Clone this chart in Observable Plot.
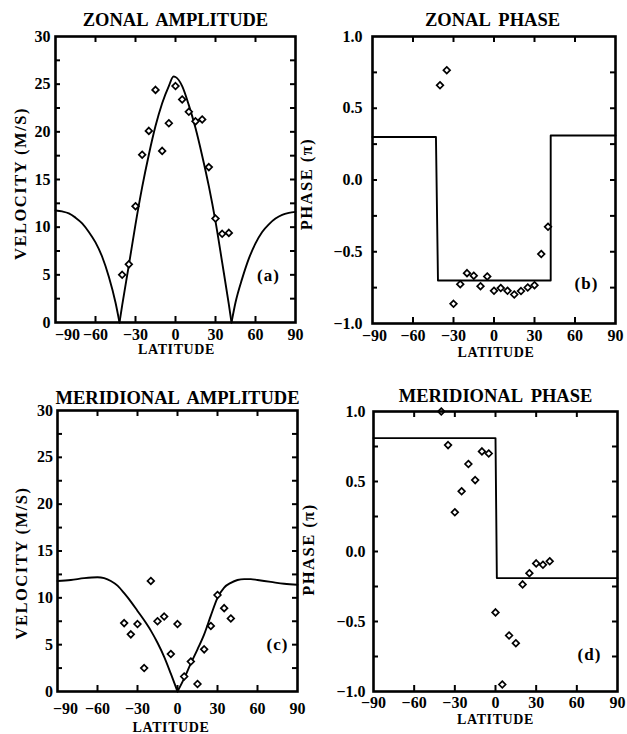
<!DOCTYPE html>
<html><head><meta charset="utf-8">
<script src="https://cdn.jsdelivr.net/npm/d3@7"></script>
<script src="https://cdn.jsdelivr.net/npm/@observablehq/plot@0.6"></script>
<style>
body{margin:0;background:#fff;}
#wrap{position:relative;width:627px;height:734px;overflow:hidden;background:#fff;}
#wrap svg{position:absolute;overflow:visible;}
</style></head><body><div id="wrap"></div>
<script>
// ---- observations (latitude grid, every 5 degrees) ----
const latObs = [-40,-35,-30,-25,-20,-15,-10,-5,0,5,10,15,20,25,30,35,40];
const zonalAmpObs = [5.0,6.1,12.2,17.6,20.1,24.4,18.0,20.9,24.8,23.4,22.1,21.1,21.3,16.3,10.9,9.3,9.4];
const zonalPhaseObs = [0.66,0.765,-0.863,-0.726,-0.649,-0.667,-0.740,-0.672,-0.772,-0.753,-0.772,-0.798,-0.774,-0.749,-0.733,-0.516,-0.326];
const merAmpObs = [7.3,6.1,7.2,2.5,11.8,7.5,8.0,4.0,7.2,1.6,3.2,0.8,4.5,7.0,10.3,8.9,7.8];
const merPhaseObs = [1.0,0.76,0.28,0.43,0.625,0.51,0.715,0.70,-0.435,-0.95,-0.60,-0.655,-0.235,-0.155,-0.085,-0.095,-0.07];

// ---- model curves ----
const zonalAmpModelLat = [-90,-85,-80,-75,-70,-65,-60,-55,-50,-45,-42,-40,-35,-30,-25,-20,-15,-10,-5,-1.5,0,5,10,15,20,25,30,35,40,42,45,50,55,60,65,70,75,80,85,90];
const zonalAmpModel    = [11.75,11.65,11.45,11.0,10.4,9.5,8.4,6.9,4.8,2.1,0,1.8,6.0,10.3,14.2,17.6,20.6,23.0,24.8,25.8,25.75,24.8,22.8,20.4,17.5,14.3,10.6,6.3,1.9,0,2.1,4.6,6.7,8.3,9.5,10.3,10.9,11.3,11.5,11.6];
const zonalPhaseModelLat = [-90,-43,-41.5,42,42,90];
const zonalPhaseModel    = [0.30,0.30,-0.70,-0.70,0.31,0.31];
const merAmpModelLat = [-90,-80,-70,-60,-55,-50,-45,-40,-35,-30,-25,-20,-15,-10,-5,0,5,10,15,20,25,30,35,40,45,50,55,60,70,80,90];
const merAmpModel    = [11.8,11.9,12.1,12.2,12.1,11.8,11.3,10.5,9.6,8.6,7.6,6.5,5.2,3.7,1.9,0,1.4,3.0,4.5,6.1,8.1,10.0,11.1,11.6,11.9,12.0,12.0,11.9,11.7,11.5,11.4];
const merPhaseModelLat = [-90,0,1,90];
const merPhaseModel    = [0.81,0.81,-0.19,-0.19];

// ---- ticks ----
const xTickValues = [-90,-60,-30,0,30,60,90];
const xInnerTicks = [-60,-30,0,30,60];
const ampTickValues = [0,5,10,15,20,25,30];
const ampMinorTicks = [2.5,5,7.5,10,12.5,15,17.5,20,22.5,25,27.5];
const phaseTickValues = [-1,-0.5,0,0.5,1];
const phaseMinorTicks = [-0.75,-0.5,-0.25,0,0.25,0.5,0.75];

const SERIF = "'Liberation Serif','Times New Roman',serif";
const xFmt = d3.format("d");

function rowsOf(lats, vals) {
  const rows = []; let seg = 0;
  lats.forEach((x, i) => {
    const y = vals[i];
    rows.push({x, y, seg});
    if (y === 0 && i > 0 && i < lats.length - 1) { seg++; rows.push({x, y, seg}); }
  });
  return rows;
}

function panel(o) {
  const {left, top, width, height, m} = o;
  const frameH = height - m.top - m.bottom;
  const frameW = width - m.left - m.right;
  const obs = latObs.map((x, i) => ({x, y: o.obs[i]}));
  const model = rowsOf(o.modelLat, o.model);
  const firstTick = xTickValues.slice(0, 1);
  const svg = Plot.plot({
    width, height,
    marginTop: m.top, marginRight: m.right, marginBottom: m.bottom, marginLeft: m.left,
    style: {fontFamily: SERIF, fontWeight: "bold", fontSize: "16px", background: "transparent", overflow: "visible", color: "#000"},
    x: {domain: [-90, 90], ticks: xTickValues.slice(1), tickSize: 0, tickPadding: o.xPad, label: null, tickFormat: xFmt},
    y: {domain: o.yDomain, ticks: o.yTicks, tickSize: 0, tickPadding: o.yPad, label: null, tickFormat: o.yFormat},
    marks: [
      Plot.tickX(xInnerTicks, {x: d => d, insetTop: frameH - 6, strokeWidth: 2}),
      Plot.tickX(xInnerTicks, {x: d => d, insetBottom: frameH - 6, strokeWidth: 2}),
      Plot.tickY(o.yMinor, {y: d => d, insetLeft: frameW - 5, strokeWidth: 2}),
      Plot.tickY(o.yMinor, {y: d => d, insetRight: frameW - 5, strokeWidth: 2}),
      Plot.line(model, {x: "x", y: "y", z: "seg", curve: o.curve, stroke: "black", strokeWidth: 1.9}),
      Plot.dot(obs, {x: "x", y: "y", symbol: d3.symbolDiamond2 || "diamond", r: 3, fill: "white", stroke: "black", strokeWidth: 1.7}),
      Plot.frame({strokeWidth: 2.6}),
      Plot.text(firstTick, {x: d => d, text: d => xFmt(d).replace("-", "\u2212"), frameAnchor: "bottom", dx: o.firstDx, dy: o.xPad, fontSize: 16, fontWeight: "bold", fontFamily: SERIF, lineAnchor: "top", textAnchor: "middle"}),
      Plot.text([o.title], {text: d => d, frameAnchor: "top", dx: o.titleDx || 0, dy: o.titleDy, fontSize: 18.5, fontWeight: "bold", fontFamily: SERIF, lineAnchor: "middle", textAnchor: "middle"}),
      Plot.text([o.yLabel], {text: d => d, frameAnchor: "left", rotate: -90, dx: o.yLabelDx, dy: o.yLabelDy, fontSize: 16.5, fontWeight: "bold", fontFamily: SERIF, lineAnchor: "middle", textAnchor: "middle"}),
      Plot.text(["LATITUDE"], {text: d => d, frameAnchor: "bottom", dx: o.xLabelDx, dy: o.xLabelDy, fontSize: 14, fontWeight: "bold", fontFamily: SERIF, lineAnchor: "middle", textAnchor: "middle"}),
      Plot.text([o.tag], {text: d => d, frameAnchor: "bottom-right", dx: o.tagDx, dy: o.tagDy, fontSize: 17, fontWeight: "bold", fontFamily: SERIF, lineAnchor: "middle", textAnchor: "middle"})
    ]
  });
  svg.style.left = left + "px";
  svg.style.top = top + "px";
  svg.querySelectorAll('g[aria-label="text"] text').forEach(t => {
    const s = t.textContent;
    if (s === o.yLabel) t.style.letterSpacing = "1.5px";
    else if (s === "LATITUDE") t.style.letterSpacing = "0.6px";
    else if (s === o.tag) t.style.letterSpacing = "1px";
    else if (s === o.title) t.style.wordSpacing = "4px";
  });
  document.getElementById("wrap").appendChild(svg);
}

const ampFmt = d3.format("d");
const phaseFmt = d3.format(".1f");

panel({left: 0, top: 0, width: 300, height: 367, m: {top: 36, right: 5, bottom: 45, left: 55},
  title: "ZONAL AMPLITUDE", titleDy: -16, yLabel: "VELOCITY (M/S)", yLabelDx: -35, yLabelDy: 4,
  xLabelDx: 1, xLabelDy: 27, tag: "(a)", tagDx: -27, tagDy: -47, xPad: 6, yPad: 5, firstDx: 12,
  yDomain: [0, 30], yTicks: ampTickValues, yMinor: ampMinorTicks, yFormat: ampFmt,
  obs: zonalAmpObs, modelLat: zonalAmpModelLat, model: zonalAmpModel, curve: "monotone-x"});

panel({left: 300, top: 0, width: 327, height: 367, m: {top: 36, right: 12, bottom: 44, left: 72},
  title: "ZONAL PHASE", titleDx: -1.5, titleDy: -16, yLabel: "PHASE (π)", yLabelDx: -66, yLabelDy: 4,
  xLabelDx: 2, xLabelDy: 29, tag: "(b)", tagDx: -29, tagDy: -40, xPad: 6, yPad: 10, firstDx: 2,
  yDomain: [-1, 1], yTicks: phaseTickValues, yMinor: phaseMinorTicks, yFormat: phaseFmt,
  obs: zonalPhaseObs, modelLat: zonalPhaseModelLat, model: zonalPhaseModel, curve: "linear"});

panel({left: 0, top: 367, width: 300, height: 367, m: {top: 43, right: 3, bottom: 43, left: 57},
  title: "MERIDIONAL AMPLITUDE", titleDy: -12, yLabel: "VELOCITY (M/S)", yLabelDx: -36, yLabelDy: 12,
  xLabelDx: -6.5, xLabelDy: 36, tag: "(c)", tagDx: -20, tagDy: -47, xPad: 11, yPad: 4.5, firstDx: 8,
  yDomain: [0, 30], yTicks: ampTickValues, yMinor: ampMinorTicks, yFormat: ampFmt,
  obs: merAmpObs, modelLat: merAmpModelLat, model: merAmpModel, curve: "monotone-x"});

panel({left: 300, top: 367, width: 327, height: 367, m: {top: 44, right: 10, bottom: 43, left: 73},
  title: "MERIDIONAL PHASE", titleDy: -15, yLabel: "PHASE (π)", yLabelDx: -65, yLabelDy: -2,
  xLabelDx: 0, xLabelDy: 28, tag: "(d)", tagDx: -28, tagDy: -37, xPad: 5, yPad: 8, firstDx: 0,
  yDomain: [-1, 1], yTicks: phaseTickValues, yMinor: phaseMinorTicks, yFormat: phaseFmt,
  obs: merPhaseObs, modelLat: merPhaseModelLat, model: merPhaseModel, curve: "linear"});
</script>
</body></html>
